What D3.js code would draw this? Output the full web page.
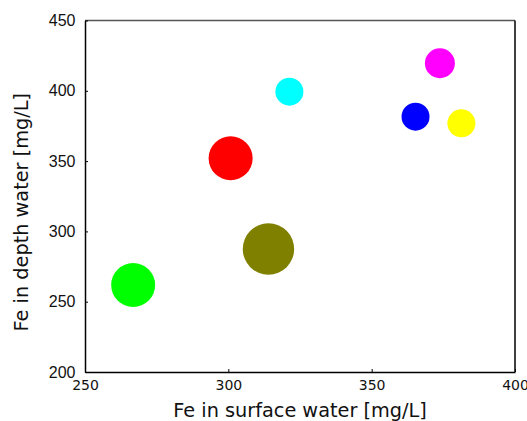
<!DOCTYPE html>
<html>
<head>
<meta charset="utf-8">
<script src="https://cdn.jsdelivr.net/npm/d3@7"></script>
<style>
  body { margin: 0; background: #fff; }
</style>
</head>
<body>
<div id="chart"></div>
<script>
// bubble data
var surfaceFe = [266.8, 314.0, 300.8, 321.3, 365.3, 373.8, 381.3];
var depthFe = [261.9, 287.5, 352.0, 399.4, 381.6, 419.6, 376.9];
var bubbleSize = [484, 660, 484, 196, 196, 225, 196];
var bubbleColors = ["#00ff00", "#808000", "#ff0000", "#00ffff", "#0000ff", "#ff00ff", "#ffff00"];
var xTicks = [250, 300, 350, 400];
var yTicks = [200, 250, 300, 350, 400, 450];

var margin = { top: 20.5, right: 12, bottom: 49, left: 85 },
    width = 527 - margin.left - margin.right,
    height = 421 - margin.top - margin.bottom;

var svg = d3.select("#chart")
    .append("svg")
    .attr("width", 527)
    .attr("height", 421)
    .append("g")
    .attr("transform", "translate(" + margin.left + "," + margin.top + ")");

var x = d3.scaleLinear().domain([250, 400]).range([0, width]);
var y = d3.scaleLinear().domain([200, 450]).range([height, 0]);
var r = d3.scaleSqrt().domain([0, 676]).range([0, 26]);

// frame
svg.append("line").attr("x1", 0).attr("x2", width).attr("y1", 0).attr("y2", 0)
    .attr("stroke", "#555").attr("stroke-width", 1.5);
svg.append("line").attr("x1", width).attr("x2", width).attr("y1", 0).attr("y2", height)
    .attr("stroke", "#000").attr("stroke-width", 1.5);

// bubbles
var data = surfaceFe.map(function (d, i) {
    return { sx: d, dy: depthFe[i], size: bubbleSize[i], color: bubbleColors[i] };
});
svg.selectAll("circle.bubble")
    .data(data)
    .enter()
    .append("circle")
    .attr("class", "bubble")
    .attr("cx", function (d) { return x(d.sx); })
    .attr("cy", function (d) { return y(d.dy); })
    .attr("r", function (d) { return r(d.size); })
    .attr("fill", function (d) { return d.color; });

// axes with small inward ticks
var xAxis = svg.append("g")
    .attr("transform", "translate(0," + height + ")")
    .call(d3.axisBottom(x).tickValues(xTicks).tickSizeInner(-3).tickSizeOuter(0).tickPadding(8));
xAxis.select(".domain").attr("stroke-width", 1.5);
xAxis.selectAll("text")
    .style("font-family", "DejaVu Sans")
    .style("font-size", "14px")
    .attr("fill", "#111");

var yAxis = svg.append("g")
    .call(d3.axisLeft(y).tickValues(yTicks).tickSizeInner(-3).tickSizeOuter(0).tickPadding(9.5));
yAxis.select(".domain").attr("stroke-width", 1.5);
yAxis.selectAll("text")
    .style("font-family", "Liberation Sans")
    .style("font-size", "16px")
    .attr("fill", "#111");

// titles
svg.append("text")
    .attr("x", width / 2)
    .attr("y", height + 45)
    .attr("text-anchor", "middle")
    .style("font-family", "DejaVu Sans")
    .style("font-size", "19.3px")
    .attr("fill", "#111")
    .text("Fe in surface water [mg/L]");

svg.append("text")
    .attr("transform", "translate(" + (-57) + "," + (height / 2 + 16) + ") rotate(-90)")
    .attr("text-anchor", "middle")
    .style("font-family", "DejaVu Sans")
    .style("font-size", "19.3px")
    .attr("fill", "#111")
    .text("Fe in depth water [mg/L]");
</script>
</body>
</html>
